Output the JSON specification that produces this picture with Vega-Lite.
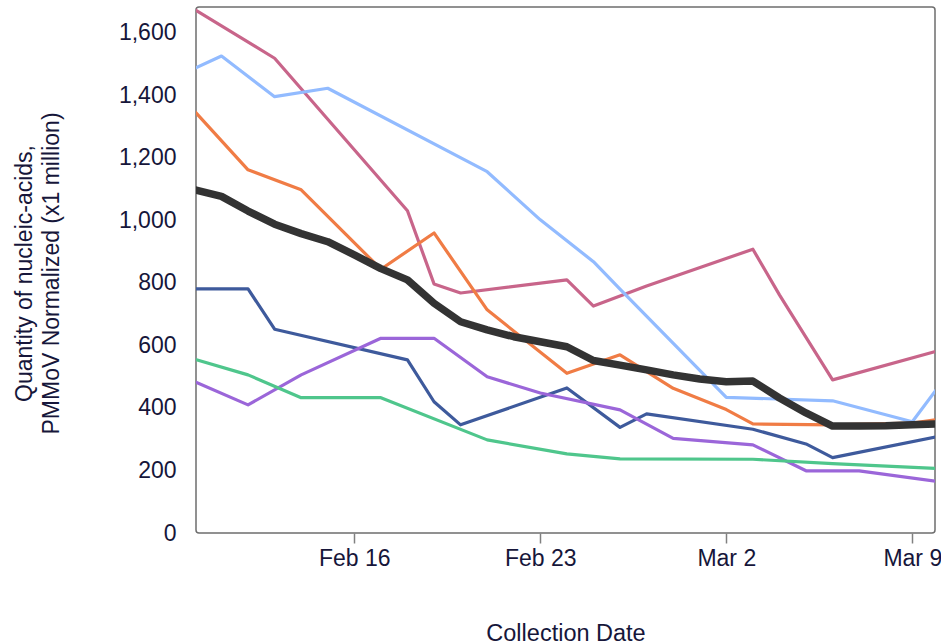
{
  "$schema": "https://vega.github.io/schema/vega-lite/v6.json",
  "autosize": {"type": "none"},
  "padding": {"left": 196, "top": 7, "right": 6, "bottom": 111},
  "width": 739,
  "height": 526,
  "config": {
    "view": {"stroke": "#6e6e6e", "strokeWidth": 1.5, "cornerRadius": 3},
    "font": "Liberation Sans",
    "axis": {"grid": false, "domain": false, "labelColor": "#16163a", "titleColor": "#16163a", "labelFont": "Liberation Sans", "titleFont": "Liberation Sans", "titleFontWeight": "normal"}
  },
  "data": {"values": [
    {"date": "2023-02-10T00:00:00", "series": "Site 1", "value": 1674},
    {"date": "2023-02-13T00:00:00", "series": "Site 1", "value": 1519},
    {"date": "2023-02-18T00:00:00", "series": "Site 1", "value": 1031},
    {"date": "2023-02-19T00:00:00", "series": "Site 1", "value": 797},
    {"date": "2023-02-20T00:00:00", "series": "Site 1", "value": 768},
    {"date": "2023-02-24T00:00:00", "series": "Site 1", "value": 810},
    {"date": "2023-02-25T00:00:00", "series": "Site 1", "value": 726},
    {"date": "2023-02-27T00:00:00", "series": "Site 1", "value": 790},
    {"date": "2023-03-03T00:00:00", "series": "Site 1", "value": 908},
    {"date": "2023-03-04T00:00:00", "series": "Site 1", "value": 762},
    {"date": "2023-03-06T00:00:00", "series": "Site 1", "value": 490},
    {"date": "2023-03-10T00:00:00", "series": "Site 1", "value": 584},

    {"date": "2023-02-10T00:00:00", "series": "Site 2", "value": 1487},
    {"date": "2023-02-11T00:00:00", "series": "Site 2", "value": 1526},
    {"date": "2023-02-13T00:00:00", "series": "Site 2", "value": 1396},
    {"date": "2023-02-15T00:00:00", "series": "Site 2", "value": 1423},
    {"date": "2023-02-21T00:00:00", "series": "Site 2", "value": 1156},
    {"date": "2023-02-23T00:00:00", "series": "Site 2", "value": 1002},
    {"date": "2023-02-25T00:00:00", "series": "Site 2", "value": 868},
    {"date": "2023-02-26T00:00:00", "series": "Site 2", "value": 780},
    {"date": "2023-03-02T00:00:00", "series": "Site 2", "value": 434},
    {"date": "2023-03-06T00:00:00", "series": "Site 2", "value": 423},
    {"date": "2023-03-09T00:00:00", "series": "Site 2", "value": 356},
    {"date": "2023-03-10T00:00:00", "series": "Site 2", "value": 470},

    {"date": "2023-02-10T00:00:00", "series": "Site 3", "value": 1348},
    {"date": "2023-02-12T00:00:00", "series": "Site 3", "value": 1162},
    {"date": "2023-02-14T00:00:00", "series": "Site 3", "value": 1098},
    {"date": "2023-02-17T00:00:00", "series": "Site 3", "value": 844},
    {"date": "2023-02-19T00:00:00", "series": "Site 3", "value": 960},
    {"date": "2023-02-21T00:00:00", "series": "Site 3", "value": 714},
    {"date": "2023-02-24T00:00:00", "series": "Site 3", "value": 511},
    {"date": "2023-02-26T00:00:00", "series": "Site 3", "value": 570},
    {"date": "2023-02-28T00:00:00", "series": "Site 3", "value": 463},
    {"date": "2023-03-02T00:00:00", "series": "Site 3", "value": 395},
    {"date": "2023-03-03T00:00:00", "series": "Site 3", "value": 349},
    {"date": "2023-03-06T00:00:00", "series": "Site 3", "value": 346},
    {"date": "2023-03-09T00:00:00", "series": "Site 3", "value": 352},
    {"date": "2023-03-10T00:00:00", "series": "Site 3", "value": 364},

    {"date": "2023-02-10T00:00:00", "series": "Site 4", "value": 781},
    {"date": "2023-02-12T00:00:00", "series": "Site 4", "value": 781},
    {"date": "2023-02-13T00:00:00", "series": "Site 4", "value": 652},
    {"date": "2023-02-18T00:00:00", "series": "Site 4", "value": 554},
    {"date": "2023-02-19T00:00:00", "series": "Site 4", "value": 420},
    {"date": "2023-02-20T00:00:00", "series": "Site 4", "value": 346},
    {"date": "2023-02-24T00:00:00", "series": "Site 4", "value": 464},
    {"date": "2023-02-26T00:00:00", "series": "Site 4", "value": 338},
    {"date": "2023-02-27T00:00:00", "series": "Site 4", "value": 381},
    {"date": "2023-03-03T00:00:00", "series": "Site 4", "value": 332},
    {"date": "2023-03-05T00:00:00", "series": "Site 4", "value": 285},
    {"date": "2023-03-06T00:00:00", "series": "Site 4", "value": 241},
    {"date": "2023-03-10T00:00:00", "series": "Site 4", "value": 309},

    {"date": "2023-02-10T00:00:00", "series": "Site 5", "value": 484},
    {"date": "2023-02-12T00:00:00", "series": "Site 5", "value": 410},
    {"date": "2023-02-14T00:00:00", "series": "Site 5", "value": 506},
    {"date": "2023-02-17T00:00:00", "series": "Site 5", "value": 623},
    {"date": "2023-02-19T00:00:00", "series": "Site 5", "value": 623},
    {"date": "2023-02-21T00:00:00", "series": "Site 5", "value": 500},
    {"date": "2023-02-23T00:00:00", "series": "Site 5", "value": 448},
    {"date": "2023-02-26T00:00:00", "series": "Site 5", "value": 394},
    {"date": "2023-02-28T00:00:00", "series": "Site 5", "value": 303},
    {"date": "2023-03-03T00:00:00", "series": "Site 5", "value": 282},
    {"date": "2023-03-05T00:00:00", "series": "Site 5", "value": 199},
    {"date": "2023-03-07T00:00:00", "series": "Site 5", "value": 199},
    {"date": "2023-03-10T00:00:00", "series": "Site 5", "value": 164},

    {"date": "2023-02-10T00:00:00", "series": "Site 6", "value": 556},
    {"date": "2023-02-12T00:00:00", "series": "Site 6", "value": 506},
    {"date": "2023-02-14T00:00:00", "series": "Site 6", "value": 433},
    {"date": "2023-02-17T00:00:00", "series": "Site 6", "value": 433},
    {"date": "2023-02-21T00:00:00", "series": "Site 6", "value": 298},
    {"date": "2023-02-24T00:00:00", "series": "Site 6", "value": 253},
    {"date": "2023-02-26T00:00:00", "series": "Site 6", "value": 237},
    {"date": "2023-03-03T00:00:00", "series": "Site 6", "value": 236},
    {"date": "2023-03-06T00:00:00", "series": "Site 6", "value": 222},
    {"date": "2023-03-10T00:00:00", "series": "Site 6", "value": 206},

    {"date": "2023-02-10T00:00:00", "series": "Average", "value": 1098},
    {"date": "2023-02-11T00:00:00", "series": "Average", "value": 1077},
    {"date": "2023-02-12T00:00:00", "series": "Average", "value": 1030},
    {"date": "2023-02-13T00:00:00", "series": "Average", "value": 988},
    {"date": "2023-02-14T00:00:00", "series": "Average", "value": 958},
    {"date": "2023-02-15T00:00:00", "series": "Average", "value": 932},
    {"date": "2023-02-16T00:00:00", "series": "Average", "value": 890},
    {"date": "2023-02-17T00:00:00", "series": "Average", "value": 846},
    {"date": "2023-02-18T00:00:00", "series": "Average", "value": 810},
    {"date": "2023-02-19T00:00:00", "series": "Average", "value": 735},
    {"date": "2023-02-20T00:00:00", "series": "Average", "value": 676},
    {"date": "2023-02-21T00:00:00", "series": "Average", "value": 650},
    {"date": "2023-02-22T00:00:00", "series": "Average", "value": 628},
    {"date": "2023-02-23T00:00:00", "series": "Average", "value": 612},
    {"date": "2023-02-24T00:00:00", "series": "Average", "value": 596},
    {"date": "2023-02-25T00:00:00", "series": "Average", "value": 552},
    {"date": "2023-02-26T00:00:00", "series": "Average", "value": 537},
    {"date": "2023-02-27T00:00:00", "series": "Average", "value": 522},
    {"date": "2023-02-28T00:00:00", "series": "Average", "value": 506},
    {"date": "2023-03-01T00:00:00", "series": "Average", "value": 493},
    {"date": "2023-03-02T00:00:00", "series": "Average", "value": 484},
    {"date": "2023-03-03T00:00:00", "series": "Average", "value": 486},
    {"date": "2023-03-04T00:00:00", "series": "Average", "value": 432},
    {"date": "2023-03-05T00:00:00", "series": "Average", "value": 384},
    {"date": "2023-03-06T00:00:00", "series": "Average", "value": 342},
    {"date": "2023-03-07T00:00:00", "series": "Average", "value": 342},
    {"date": "2023-03-08T00:00:00", "series": "Average", "value": 343},
    {"date": "2023-03-09T00:00:00", "series": "Average", "value": 346},
    {"date": "2023-03-10T00:00:00", "series": "Average", "value": 349}
  ]},
  "encoding": {
    "x": {
      "field": "date", "type": "temporal",
      "scale": {"domain": ["2023-02-10T01:00:00", "2023-03-09T20:30:00"], "nice": false},
      "axis": {
        "title": "Collection Date",
        "values": [
          {"year": 2023, "month": 2, "date": 16},
          {"year": 2023, "month": 2, "date": 23},
          {"year": 2023, "month": 3, "date": 2},
          {"year": 2023, "month": 3, "date": 9}
        ],
        "format": "%b %-d",
        "labelFontSize": 23, "titleFontSize": 23.5,
        "tickSize": 10, "tickColor": "#808080", "tickWidth": 1.5,
        "labelPadding": 4, "labelFlush": false,
        "titleBaseline": "alphabetic", "titleY": 107
      }
    },
    "y": {
      "field": "value", "type": "quantitative",
      "scale": {"domain": [0, 1683], "nice": false, "zero": true},
      "axis": {
        "title": ["Quantity of nucleic-acids,", "PMMoV Normalized (x1 million)"],
        "values": [0, 200, 400, 600, 800, 1000, 1200, 1400, 1600],
        "format": ",d",
        "ticks": false, "labelPadding": 20,
        "labelFontSize": 23, "titleFontSize": 23, "titleLineHeight": 27,
        "titleAngle": -90, "titleAlign": "center", "titleBaseline": "alphabetic",
        "titleX": -165, "titleY": 266
      }
    }
  },
  "layer": [
    {
      "transform": [{"filter": "datum.series !== 'Average'"}],
      "mark": {"type": "line", "clip": true, "strokeWidth": 3.2, "strokeJoin": "round"},
      "encoding": {
        "color": {
          "field": "series", "type": "nominal", "legend": null,
          "scale": {
            "domain": ["Site 1", "Site 2", "Site 3", "Site 4", "Site 5", "Site 6"],
            "range": ["#c8658a", "#92bbff", "#f07c45", "#3e5a9c", "#9b66d9", "#4fc68c"]
          }
        }
      }
    },
    {
      "transform": [{"filter": "datum.series === 'Average'"}],
      "mark": {"type": "line", "clip": true, "strokeWidth": 7.5, "strokeJoin": "round", "color": "#333333"},
      "encoding": {}
    }
  ]
}
